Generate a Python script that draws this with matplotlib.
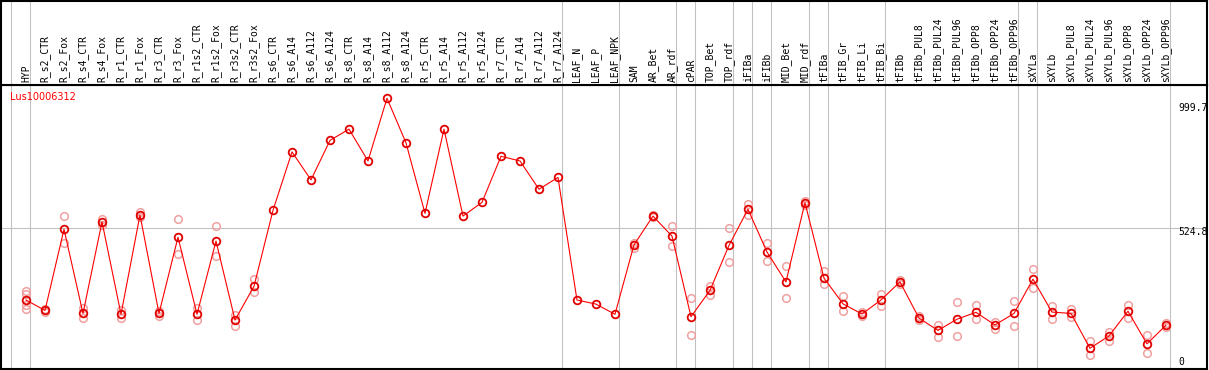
import matplotlib
matplotlib.use('Agg')
import matplotlib.pyplot as plt
import matplotlib.transforms as mtransforms
import numpy as np

gene = 'Lus10006312'

samples = ['HYP', 'R_s2_CTR', 'R_s2_Fox', 'R_s4_CTR', 'R_s4_Fox', 'R_r1_CTR', 'R_r1_Fox',
           'R_r3_CTR', 'R_r3_Fox', 'R_r1s2_CTR', 'R_r1s2_Fox', 'R_r3s2_CTR', 'R_r3s2_Fox',
           'R_s6_CTR', 'R_s6_A14', 'R_s6_A112', 'R_s6_A124', 'R_s8_CTR', 'R_s8_A14',
           'R_s8_A112', 'R_s8_A124', 'R_r5_CTR', 'R_r5_A14', 'R_r5_A112', 'R_r5_A124',
           'R_r7_CTR', 'R_r7_A14', 'R_r7_A112', 'R_r7_A124', 'LEAF_N', 'LEAF_P', 'LEAF_NPK',
           'SAM', 'AR_Bet', 'AR_rdf', 'cPAR', 'TOP_Bet', 'TOP_rdf', 'iFIBa', 'iFIBb',
           'MID_Bet', 'MID_rdf', 'tFIBa', 'tFIB_Gr', 'tFIB_Li', 'tFIB_Bi', 'tFIBb',
           'tFIBb_PUL8', 'tFIBb_PUL24', 'tFIBb_PUL96', 'tFIBb_OPP8', 'tFIBb_OPP24',
           'tFIBb_OPP96', 'sXYLa', 'sXYLb', 'sXYLb_PUL8', 'sXYLb_PUL24', 'sXYLb_PUL96',
           'sXYLb_OPP8', 'sXYLb_OPP24', 'sXYLb_OPP96']

means = [264, 226, 522, 215, 549, 212, 574, 215, 493, 212, 479, 191, 314,
         591, 804, 702, 846, 887, 771, 999.7, 837, 580, 887, 570, 620,
         788, 771, 668, 711, 264, 249, 212,
         465, 570, 497, 203, 299, 463, 595, 439, 330, 619, 344, 250, 213, 264, 330,
         198, 153, 194, 219, 173, 215, 340, 220, 215, 88, 133, 223, 104, 172]

reps = [[297, 285, 246, 230], [232, 220], [570, 471], [234, 197], [560, 538],
        [228, 200], [586, 568], [224, 206], [558, 432], [236, 191], [533, 423],
        [209, 170], [340, 292],
        [], [], [], [], [], [], [], [], [], [], [], [], [], [], [], [], [], [], [],
        [473, 452], [575, 565], [533, 460], [270, 135], [315, 282], [525, 401],
        [614, 575], [471, 406], [387, 271], [626, 612], [371, 321], [278, 224],
        [220, 206], [286, 243], [338, 322], [205, 191], [173, 130], [256, 133],
        [247, 194], [185, 158], [259, 169], [377, 307], [242, 196], [230, 203],
        [115, 65], [148, 113], [245, 200], [135, 70], [181, 167]]

# last sample of each group (a grey separator follows it)
group_ends = ['HYP', 'R_r7_A124', 'LEAF_NPK', 'AR_rdf', 'cPAR', 'TOP_rdf', 'iFIBa',
              'iFIBb', 'MID_rdf', 'tFIBa', 'tFIB_Bi', 'tFIBb_OPP96', 'sXYLa', 'sXYLb_OPP96']

W, H = 1209, 370
fig = plt.figure(figsize=(W / 100, H / 100), dpi=100)
ax = fig.add_axes([1 / W, 1 / H, 1206 / W, 284 / H])
top = fig.add_axes([1 / W, 285 / H, 1206 / W, 84 / H], sharex=ax)

x = np.arange(len(samples))
ax.set_xlim(-1.316, 62.16)
ax.set_ylim(12.4, 1048)

grid_c = '#c0c0c0'
seps = [-1] + [samples.index(s) for s in group_ends]
for a in (ax, top):
    for s in seps:
        a.axvline(s + 0.23, color=grid_c, lw=0.75, zorder=0)
    for sp in a.spines.values():
        sp.set_color('black')
        sp.set_linewidth(1.5)
    a.set_xticks([])
    a.set_yticks([])
top.set_ylim(0, 1)
ax.axhline(524.8, color=grid_c, lw=0.75, zorder=0)

# replicates
for i, r in enumerate(reps):
    if r:
        ax.plot([i] * len(r), r, 'o', ms=5.5, mfc='none', mec='#f0a0a0', mew=1.1, zorder=2)

ax.plot(x, means, '-', color='red', lw=0.8, zorder=3)
ax.plot(x, means, 'o', ms=5.5, mfc='none', mec='#e00000', mew=1.3, zorder=4)

mono = 'DejaVu Sans Mono'
trans = mtransforms.blended_transform_factory(top.transData, top.transAxes)
for i, s in enumerate(samples):
    top.text(i, 0.03, s, rotation=90, ha='center', va='bottom', fontsize=7,
             family=mono, transform=trans)

ax.text(0.0075, 0.958, gene, color='red', fontsize=7, ha='left', va='center',
        transform=ax.transAxes)
for lab, yy in [('999.7', 0.919), ('524.8', 0.482), ('0', 0.025)]:
    ax.text(0.976, yy, lab, fontsize=7, family=mono, ha='left', va='center',
            transform=ax.transAxes)

fig.savefig('out.png', dpi=100)
